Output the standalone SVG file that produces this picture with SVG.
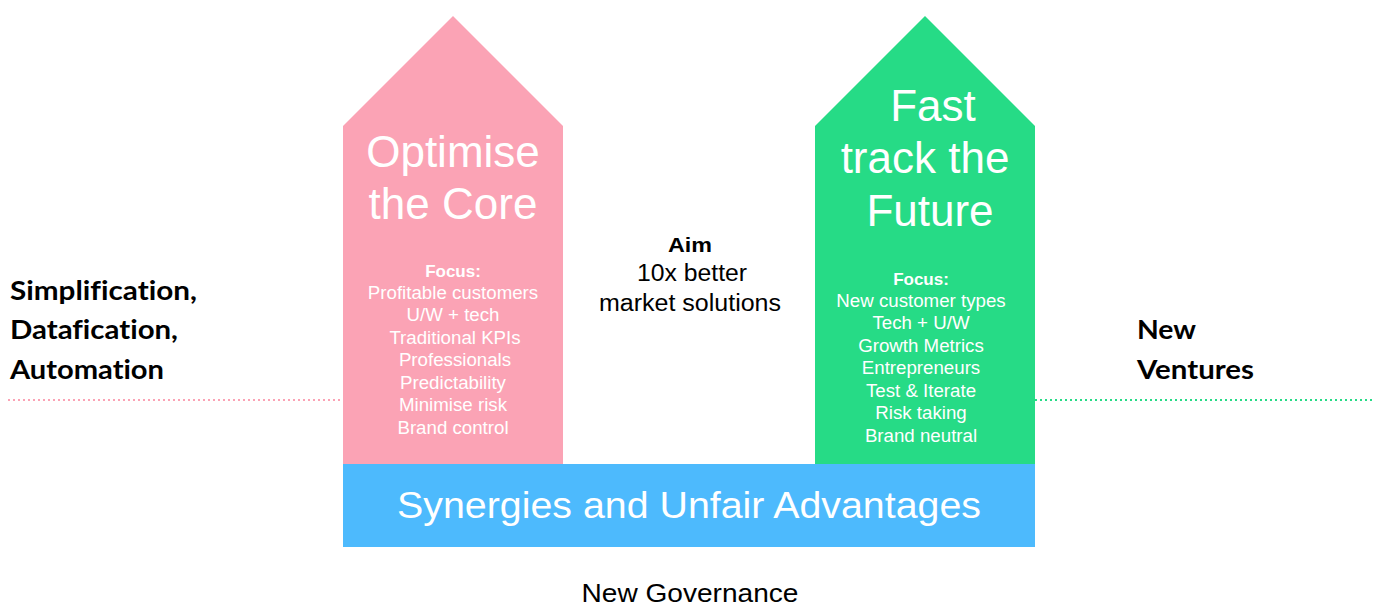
<svg xmlns="http://www.w3.org/2000/svg" width="1384" height="606" viewBox="0 0 1384 606">
<style>
.t{font-family:"Liberation Sans",Arial,sans-serif;text-anchor:middle}
.w{fill:#fff}
.big{font-size:44px}
.foc{font-size:17px;font-weight:bold}
.it{font-size:18.7px}
.side{font-family:Lato,"Liberation Sans",sans-serif;font-weight:bold;font-size:27px;fill:#000;font-variant-ligatures:none}
</style>
<rect width="1384" height="606" fill="#fff"/>
<g id="connectors">
<line x1="8" y1="400" x2="343" y2="400" stroke="#FBA3B5" stroke-width="2" stroke-dasharray="2,3"/>
<line x1="1035" y1="400" x2="1374" y2="400" stroke="#26DB86" stroke-width="2" stroke-dasharray="2,3"/>
</g>
<g id="optimise">
<polygon points="343,126 453,16 563,126 563,464 343,464" fill="#FBA3B5"/>
<text class="t w big" x="453" y="167">Optimise</text>
<text class="t w big" x="453" y="219">the Core</text>
<text class="t w foc" x="453" y="277">Focus:</text>
<text class="t w it" x="453" y="299">Profitable customers</text>
<text class="t w it" x="453" y="321">U/W + tech</text>
<text class="t w it" x="455" y="344">Traditional KPIs</text>
<text class="t w it" x="455" y="366">Professionals</text>
<text class="t w it" x="453" y="389">Predictability</text>
<text class="t w it" x="453" y="411">Minimise risk</text>
<text class="t w it" x="453" y="434">Brand control</text>
</g>
<g id="future">
<polygon points="815,126 925,16 1035,126 1035,464 815,464" fill="#26DB86"/>
<text class="t w big" x="933" y="121">Fast</text>
<text class="t w big" x="925" y="173">track the</text>
<text class="t w big" x="930" y="226">Future</text>
<text class="t w foc" x="921" y="285">Focus:</text>
<text class="t w it" x="921" y="307">New customer types</text>
<text class="t w it" x="921" y="329">Tech + U/W</text>
<text class="t w it" x="921" y="352">Growth Metrics</text>
<text class="t w it" x="921" y="374">Entrepreneurs</text>
<text class="t w it" x="921" y="397">Test &amp; Iterate</text>
<text class="t w it" x="921" y="419">Risk taking</text>
<text class="t w it" x="921" y="442">Brand neutral</text>
</g>
<g id="synergies">
<rect x="343" y="464" width="692" height="83" fill="#4DBAFD"/>
<text class="t w" x="689" y="518" font-size="37" textLength="584" lengthAdjust="spacingAndGlyphs">Synergies and Unfair Advantages</text>
</g>
<g id="aim">
<text class="t" x="690" y="252" font-size="21" font-weight="bold" textLength="44" lengthAdjust="spacingAndGlyphs">Aim</text>
<text class="t" x="692" y="281" font-size="23" textLength="110" lengthAdjust="spacingAndGlyphs">10x better</text>
<text class="t" x="690" y="311" font-size="23" textLength="182" lengthAdjust="spacingAndGlyphs">market solutions</text>
</g>
<g id="left-label">
<text class="side" x="10" y="300" textLength="187" lengthAdjust="spacingAndGlyphs">Simplification,</text>
<text class="side" x="10" y="339" textLength="168" lengthAdjust="spacingAndGlyphs">Datafication,</text>
<text class="side" x="10" y="379" textLength="154" lengthAdjust="spacingAndGlyphs">Automation</text>
</g>
<g id="right-label">
<text class="side" x="1137" y="339" textLength="59" lengthAdjust="spacingAndGlyphs">New</text>
<text class="side" x="1137" y="379" textLength="117" lengthAdjust="spacingAndGlyphs">Ventures</text>
</g>
<g id="governance">
<text class="t" x="690" y="602" font-size="26" textLength="217" lengthAdjust="spacingAndGlyphs">New Governance</text>
</g>
</svg>
